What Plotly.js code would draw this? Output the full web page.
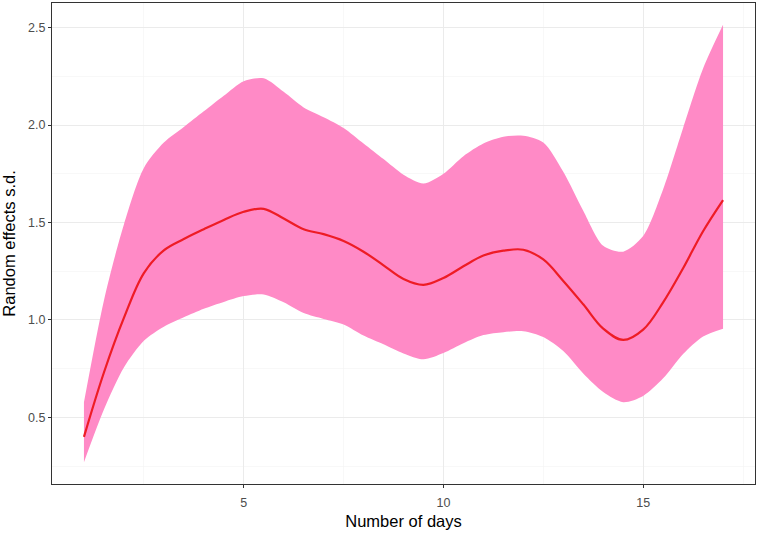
<!DOCTYPE html>
<html>
<head>
<meta charset="utf-8">
<script src="https://cdn.plot.ly/plotly-3.0.1.min.js"></script>
<style>body{margin:0;padding:0;background:#fff;}#chart{width:758px;height:533px;}</style>
</head>
<body>
<div id="chart"></div>
<script>
const days = [1, 1.5, 2, 2.5, 3, 3.5, 4, 4.5, 5, 5.5, 6, 6.5, 7, 7.5, 8, 8.5, 9, 9.5, 10, 10.5, 11, 11.5, 12, 12.5, 13, 13.5, 14, 14.5, 15, 15.5, 16, 16.5, 17];
const fitSD = [0.40, 0.73, 1.01, 1.24, 1.357, 1.415, 1.465, 1.513, 1.555, 1.57, 1.52, 1.465, 1.44, 1.405, 1.35, 1.28, 1.21, 1.18, 1.215, 1.275, 1.33, 1.355, 1.36, 1.31, 1.20, 1.08, 0.955, 0.897, 0.95, 1.09, 1.265, 1.455, 1.615];
const upperSD = [0.577, 1.10, 1.49, 1.78, 1.91, 1.99, 2.07, 2.15, 2.225, 2.24, 2.17, 2.09, 2.04, 1.985, 1.905, 1.825, 1.745, 1.70, 1.75, 1.84, 1.905, 1.94, 1.945, 1.91, 1.76, 1.56, 1.38, 1.35, 1.43, 1.67, 1.985, 2.29, 2.514];
const lowerSD = [0.27, 0.54, 0.756, 0.893, 0.965, 1.013, 1.057, 1.092, 1.122, 1.13, 1.09, 1.035, 1.005, 0.977, 0.92, 0.875, 0.828, 0.798, 0.83, 0.88, 0.922, 0.937, 0.942, 0.912, 0.84, 0.725, 0.63, 0.578, 0.61, 0.70, 0.825, 0.915, 0.955];

const traces = [
  {x: days, y: lowerSD, type: 'scatter', mode: 'lines', line: {width: 0, shape: 'spline', smoothing: 0.8}, hoverinfo: 'skip', showlegend: false},
  {x: days, y: upperSD, type: 'scatter', mode: 'lines', fill: 'tonexty', fillcolor: '#FF8AC6', line: {width: 0, shape: 'spline', smoothing: 0.8}, hoverinfo: 'skip', showlegend: false},
  {x: days, y: fitSD, type: 'scatter', mode: 'lines', line: {color: '#EE1C25', width: 2.2, shape: 'spline', smoothing: 1}, showlegend: false}
];

const layout = {
  width: 758, height: 533,
  margin: {l: 52, r: 3, t: 3, b: 49},
  paper_bgcolor: '#ffffff', plot_bgcolor: '#ffffff',
  font: {family: 'Liberation Sans, Arial, sans-serif', color: '#4D4D4D', size: 12},
  xaxis: {
    range: [0.2, 17.8], tick0: 0, dtick: 5, zeroline: false,
    showgrid: true, gridcolor: '#EBEBEB', gridwidth: 1,
    minor: {dtick: 2.5, tick0: 0, showgrid: true, gridcolor: '#F4F4F4', gridwidth: 0.6, ticklen: 0},
    showline: true, mirror: true, linecolor: '#333333', linewidth: 1,
    ticks: 'outside', ticklen: 3, tickcolor: '#333333', tickwidth: 1,
    ticklabelstandoff: 4,
    tickfont: {size: 12.5, color: '#4D4D4D'},
    title: {text: 'Number of days', font: {size: 16.5, color: '#000000'}, standoff: 6}
  },
  yaxis: {
    range: [0.158, 2.626], tick0: 0, dtick: 0.5, tickformat: '.1f', zeroline: false,
    showgrid: true, gridcolor: '#EBEBEB', gridwidth: 1,
    minor: {dtick: 0.25, tick0: 0, showgrid: true, gridcolor: '#F4F4F4', gridwidth: 0.6, ticklen: 0},
    showline: true, mirror: true, linecolor: '#333333', linewidth: 1,
    ticks: 'outside', ticklen: 3, tickcolor: '#333333', tickwidth: 1,
    tickfont: {size: 12.5, color: '#4D4D4D'},
    title: {text: 'Random effects s.d.', font: {size: 16.5, color: '#000000'}, standoff: 9}
  }
};

Plotly.newPlot('chart', traces, layout, {displayModeBar: false, staticPlot: true});
</script>
</body>
</html>
